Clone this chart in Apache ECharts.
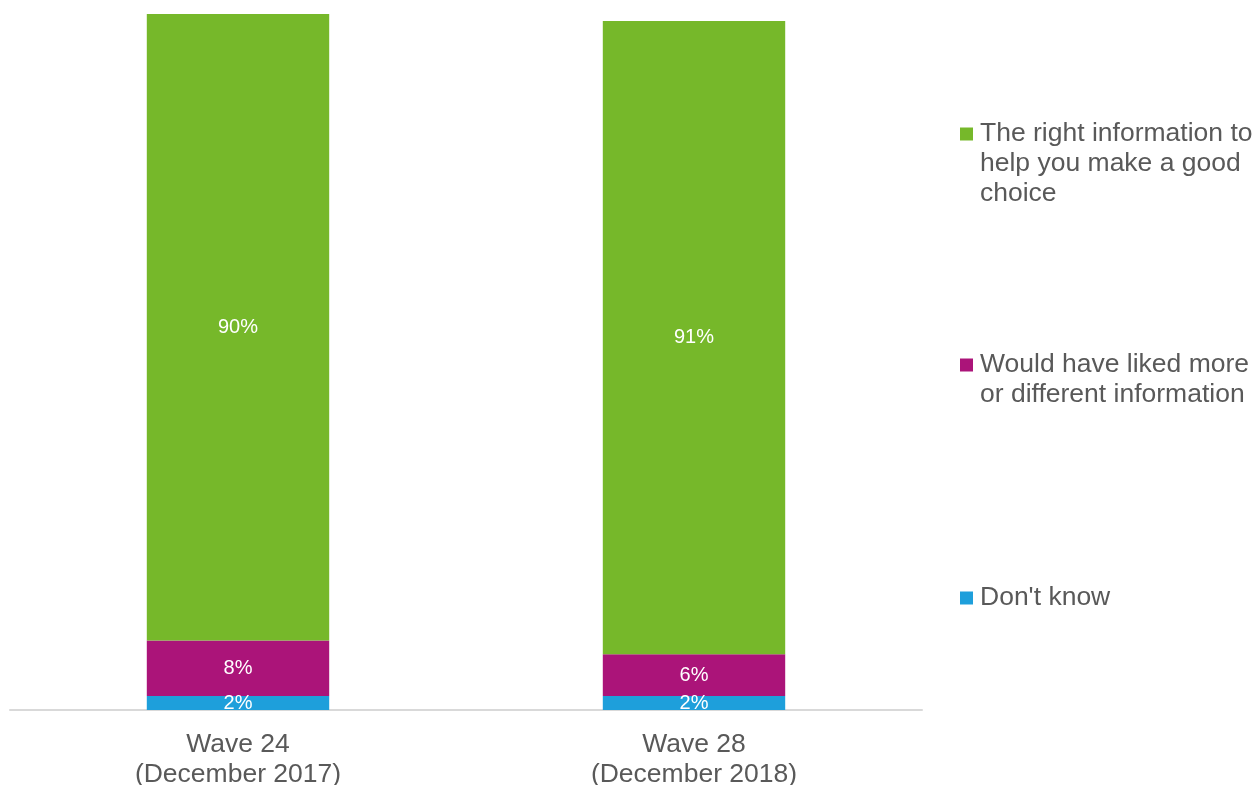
<!DOCTYPE html>
<html>
<head>
<meta charset="utf-8">
<title>Information received</title>
<script src="https://cdn.jsdelivr.net/npm/echarts@6/dist/echarts.min.js"></script>
<style>
  html, body { margin: 0; padding: 0; background: #ffffff; }
  #chart { width: 1257px; height: 785px; }
</style>
</head>
<body>
<div id="chart"></div>
<script>
// Survey waves
const categories = ['Wave 24\n(December 2017)', 'Wave 28\n(December 2018)'];

// Share of respondents (%), stacked bottom to top
const dontKnow = [2, 2];
const wouldLikeMore = [8, 6];
const rightInfo = [90, 91];

const seriesNames = [
  "Don't know",
  'Would have liked more\nor different information',
  'The right information to\nhelp you make a good\nchoice'
];

const colors = ['#1e9fdb', '#ab1479', '#76b82a'];
const textGrey = '#595959';
const font = 'Arial, "Liberation Sans", sans-serif';

const chart = echarts.init(document.getElementById('chart'));

// One legend block per series; blank lines are prepended so the swatch
// sits beside the first line of a wrapped label instead of its middle.
function legendAt(name, top) {
  const lines = name.split('\n').length;
  return {
    data: [name],
    left: 960,
    top: top,
    orient: 'vertical',
    padding: 0,
    itemWidth: 13,
    itemHeight: 13,
    itemGap: 0,
    icon: 'rect',
    selectedMode: false,
    formatter: n => '\n'.repeat(lines - 1) + n,
    textStyle: {
      color: textGrey,
      fontFamily: font,
      fontSize: 26.5,
      lineHeight: 30,
      padding: [0, 0, 0, 2]
    }
  };
}

function barSeries(name, data, color) {
  return {
    name: name,
    type: 'bar',
    stack: 'total',
    data: data,
    barWidth: '40%',
    itemStyle: { color: color },
    label: {
      show: true,
      position: 'inside',
      color: '#ffffff',
      fontFamily: font,
      fontSize: 20,
      formatter: p => p.value + '%'
    }
  };
}

chart.setOption({
  animation: false,
  backgroundColor: '#ffffff',
  grid: {
    left: 10, right: 335, top: 14, bottom: 75,
    containLabel: false,
    outerBoundsMode: 'none'
  },
  legend: [
    legendAt(seriesNames[2], 59),
    legendAt(seriesNames[1], 320),
    legendAt(seriesNames[0], 583)
  ],
  xAxis: {
    type: 'category',
    data: categories,
    axisLine: { show: true, lineStyle: { color: '#d9d9d9', width: 2 } },
    axisTick: { show: false },
    axisLabel: {
      color: textGrey,
      fontFamily: font,
      fontSize: 26.5,
      lineHeight: 30,
      margin: 20
    }
  },
  yAxis: {
    type: 'value',
    min: 0,
    max: 100,
    show: false,
    splitLine: { show: false }
  },
  series: [
    barSeries(seriesNames[0], dontKnow, colors[0]),
    barSeries(seriesNames[1], wouldLikeMore, colors[1]),
    barSeries(seriesNames[2], rightInfo, colors[2])
  ]
});
</script>
</body>
</html>
